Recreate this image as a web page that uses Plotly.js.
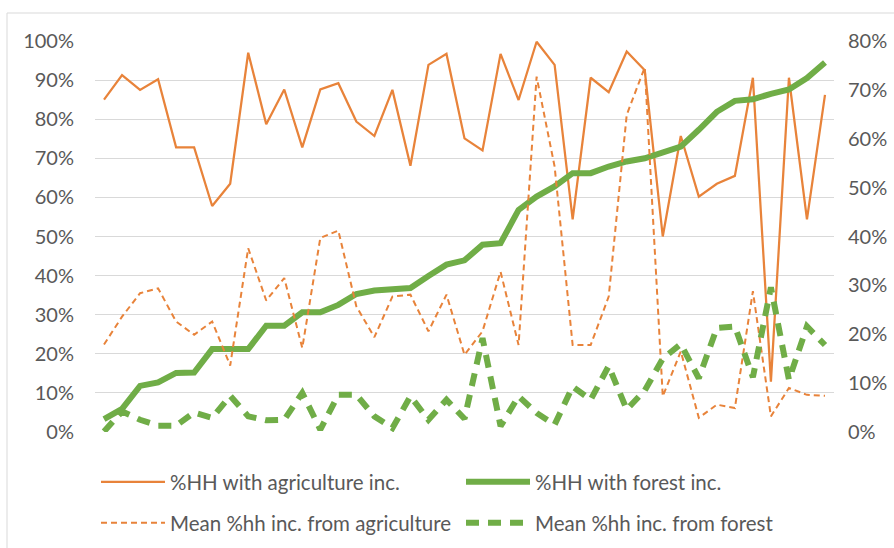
<!DOCTYPE html>
<html>
<head>
<meta charset="utf-8">
<script src="https://cdn.plot.ly/plotly-3.0.1.min.js"></script>
<style>
  html, body { margin: 0; padding: 0; background: #ffffff; }
  #chart { width: 894px; height: 548px; }
</style>
</head>
<body>
<div id="chart"></div>
<script>
// Villages ordered by share of households with forest income
const villages = Array.from({length: 41}, (_, i) => i + 1);

// Share of households with agriculture income (left axis, %)
const hhAgriculture = [85, 91.3, 87.5, 90.2, 72.8, 72.8, 57.8, 63.5, 97, 78.7,
  87.6, 72.8, 87.6, 89.2, 79.4, 75.7, 87.5, 68.1, 93.9, 96.7,
  75.1, 72, 96.7, 84.9, 99.8, 93.9, 54.4, 90.6, 86.9, 97.3,
  92.5, 50, 75.7, 60.2, 63.5, 65.5, 90.6, 12.9, 90.6, 54.4, 86.2];

// Share of households with forest income (left axis, %)
const hhForest = [3.3, 5.9, 11.8, 12.7, 15.1, 15.2, 21.2, 21.2, 21.2, 27.2,
  27.2, 30.6, 30.6, 32.5, 35.3, 36.2, 36.4, 36.8, 39.9, 42.8,
  43.9, 47.9, 48.3, 56.8, 60.2, 62.8, 66.2, 66.2, 67.9, 69.2,
  70, 71.5, 73, 77.3, 81.9, 84.7, 85.1, 86.5, 87.6, 90.5, 94.5];

// Mean share of household income from agriculture (right axis, %)
const meanAgriculture = [17.9, 23.6, 28.4, 29.4, 22.6, 19.9, 22.6, 13.6, 37.6, 26.9,
  31.5, 17.2, 39.7, 41.2, 25.7, 19.4, 27.7, 28.1, 20.6, 28.1,
  15.8, 20.6, 32.8, 17.8, 72.7, 54.3, 17.8, 17.8, 27.7, 64.9,
  74.6, 7.3, 16.5, 2.9, 5.6, 4.9, 28.8, 3.2, 9, 7.6, 7.4];

// Mean share of household income from forest (right axis, %)
const meanForest = [0.1, 4.2, 2.5, 1.3, 1.3, 4, 2.9, 7.4, 3.2, 2.4,
  2.5, 8, 0.5, 7.6, 7.6, 3.2, 0.8, 7.3, 2.5, 6.6,
  2.7, 19.2, 1.2, 7.3, 3.9, 1.5, 9.3, 6.6, 13.5, 4.6,
  8.5, 15, 18, 11, 21.3, 21.6, 11.2, 29.6, 10.7, 21.6, 17.8];

const leftTicks = [0, 10, 20, 30, 40, 50, 60, 70, 80, 90, 100];
const rightTicks = [0, 10, 20, 30, 40, 50, 60, 70, 80];

const ORANGE = '#E8833A';
const GREEN = '#70AD47';
const TEXT = '#595959';
const FONT = 'Lato, "Liberation Sans", sans-serif';

const traces = [
  {
    x: villages, y: hhAgriculture, type: 'scatter', mode: 'lines',
    name: '%HH with agriculture inc.', yaxis: 'y', legend: 'legend',
    line: {color: ORANGE, width: 2.25}
  },
  {
    x: villages, y: hhForest, type: 'scatter', mode: 'lines',
    name: '%HH with forest inc.', yaxis: 'y', legend: 'legend2',
    line: {color: GREEN, width: 6}
  },
  {
    x: villages, y: meanAgriculture, type: 'scatter', mode: 'lines',
    name: 'Mean %hh inc. from agriculture', yaxis: 'y2', legend: 'legend3',
    line: {color: ORANGE, width: 2, dash: '6px,4px'}
  },
  {
    x: villages, y: meanForest, type: 'scatter', mode: 'lines',
    name: 'Mean %hh inc. from forest', yaxis: 'y2', legend: 'legend4',
    line: {color: GREEN, width: 6, dash: '13px,9px'}
  }
];

// plot area spans 95..834 px horizontally and 41..432 px vertically
const L = 95, R = 834, T = 41, B = 432;
const px = v => (v - L) / (R - L);
const py = v => (B - v) / (B - T);

function legendAt(xPix, yPix) {
  return {
    x: px(xPix), y: py(yPix), xanchor: 'left', yanchor: 'middle',
    orientation: 'h', itemwidth: 64, bgcolor: 'rgba(0,0,0,0)',
    font: {family: FONT, size: 20.5, color: TEXT}
  };
}

const layout = {
  width: 894, height: 548,
  margin: {l: L, r: 894 - R, t: T, b: 548 - B, pad: 0, autoexpand: false},
  paper_bgcolor: '#ffffff', plot_bgcolor: '#ffffff',
  font: {family: FONT, size: 20, color: TEXT},
  showlegend: true,
  xaxis: {
    range: [0.5, 41.5], showgrid: false, zeroline: false,
    showticklabels: false, ticks: '', showline: false, fixedrange: true
  },
  yaxis: {
    range: [0, 100], tickvals: leftTicks, ticktext: leftTicks.map(v => v + '%'),
    showgrid: true, gridcolor: '#D9D9D9', gridwidth: 1, zeroline: false,
    showline: false, ticks: '', ticklabelstandoff: 20,
    tickfont: {family: FONT, size: 20, color: TEXT}
  },
  yaxis2: {
    range: [0, 80], tickvals: rightTicks, ticktext: rightTicks.map(v => v + '%'),
    overlaying: 'y', side: 'right', showgrid: false, zeroline: false,
    showline: false, ticks: '', ticklabelstandoff: 13,
    tickfont: {family: FONT, size: 20, color: TEXT}
  },
  legend: legendAt(96, 482),
  legend2: legendAt(461, 482),
  legend3: legendAt(96, 523),
  legend4: legendAt(461, 523),
  shapes: [
    {
      type: 'rect', xref: 'paper', yref: 'paper', layer: 'below',
      x0: px(7), x1: px(910), y0: py(570), y1: py(13),
      line: {color: '#D9D9D9', width: 1}, fillcolor: 'rgba(0,0,0,0)'
    }
  ]
};

Plotly.newPlot('chart', traces, layout, {staticPlot: true, displayModeBar: false});
</script>
</body>
</html>
